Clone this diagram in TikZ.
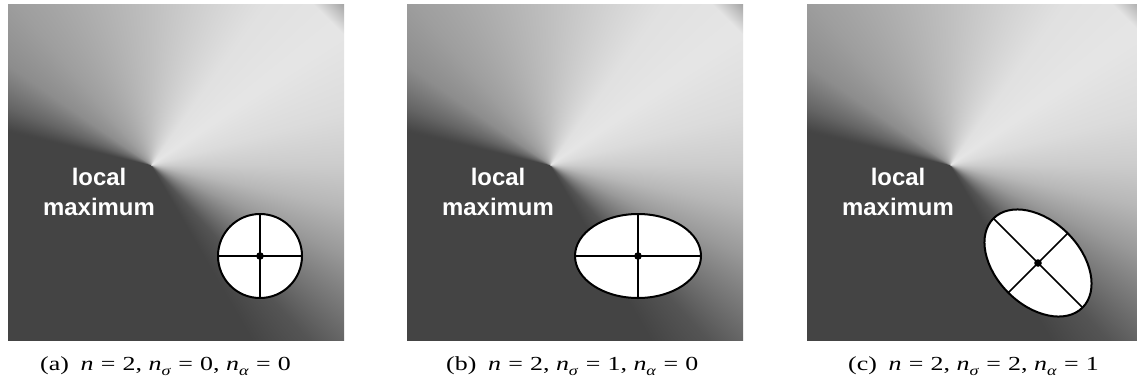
\documentclass[tikz,border=0pt]{standalone}
\usepackage{fontspec}
\setmainfont{Liberation Serif}
\newfontfamily\labelfont{Liberation Sans}
\pgfdeclarefunctionalshading{conic}{\pgfpoint{0bp}{0bp}}{\pgfpoint{337bp}{337bp}}{}{
  2 copy add 642 sub dup 0 lt {pop 0} if 0.008 mul
  3 1 roll
  175 sub exch 144.0013 sub atan
  dup 15 lt {0.004 mul 0.80 add}{
  dup 35 lt {15 sub 0.002 mul 0.86 add}{
  dup 55 lt {35 sub -0.001 mul 0.90 add}{
  dup 90 lt {55 sub -0.003714 mul 0.88 add}{
  dup 130 lt {90 sub -0.00325 mul 0.75 add}{
  dup 145 lt {130 sub -0.004667 mul 0.62 add}{
  dup 158 lt {145 sub -0.012 mul 0.55 add}{
  dup 166 lt {158 sub -0.015 mul 0.394 add}{
  dup 174 lt {166 sub -0.0075 mul 0.274 add}{
  dup 300 lt {pop 0.267}{
  dup 312 lt {300 sub 0.00525 mul 0.267 add}{
  dup 322 lt {312 sub 0.012 mul 0.33 add}{
  dup 335 lt {322 sub 0.011538 mul 0.45 add}{
  dup 348 lt {335 sub 0.009231 mul 0.60 add}{
  348 sub 0.006667 mul 0.72 add
  } ifelse} ifelse} ifelse} ifelse} ifelse} ifelse} ifelse} ifelse} ifelse} ifelse} ifelse} ifelse} ifelse} ifelse
  exch sub
  dup 0.267 lt {pop 0.267} if
  dup dup
}
\newcommand{\mi}[1]{\textit{#1}}
\newcommand{\sbs}[1]{\raisebox{-0.3em}{\fontsize{14}{14}\selectfont\textit{#1}}}
\newcommand{\eqs}{\hspace{0.28em}=\hspace{0.28em}}
\newcommand{\capline}[4]{\scalebox{1.3}[1]{(#1)\hspace{0.45em}\mi{n}\eqs #2, \mi{n}\sbs{σ}\eqs #3, \mi{n}\sbs{α}\eqs #4}}
\tikzset{
  panel/.style={inner sep=0pt, outer sep=0pt, anchor=north west},
  lbl/.style={text=white, anchor=base, inner sep=0pt, font=\labelfont\bfseries\fontsize{24}{28}\selectfont},
  captext/.style={anchor=base west, inner sep=0pt, font=\fontsize{20}{24}\selectfont},
  disc/.style={draw=black, fill=white, line width=2bp},
  axisline/.style={draw=black, line width=1.7bp},
  dot/.style={fill=black}
}
\begin{document}
\begin{tikzpicture}[x=1bp,y=-1bp]
\useasboundingbox (0,0) rectangle (1137,385);
\fill[white] (0,0) rectangle (1137,385);
\begin{scope}
\clip (0,0) rectangle (1137,385);
\node[panel] (pa) at (7,3) {\pgfuseshading{conic}};
\node[panel] (pb) at (406,3) {\pgfuseshading{conic}};
\node[panel] (pc) at (806,3) {\pgfuseshading{conic}};
\end{scope}
% labels
\node[lbl] (la1) at (99,185) {local};
\node[lbl] (la2) at (99,215) {maximum};
\node[lbl] (lb1) at (498,185) {local};
\node[lbl] (lb2) at (498,215) {maximum};
\node[lbl] (lc1) at (898,185) {local};
\node[lbl] (lc2) at (898,215) {maximum};
% ellipse a
\begin{scope}[shift={(260,256)}]
\path[disc] (0,0) ellipse [x radius=42, y radius=42];
\draw[axisline] (-42,0) -- (42,0);
\draw[axisline] (0,-42) -- (0,42);
\fill[dot] (0,0) circle [radius=3.8];
\end{scope}
% ellipse b
\begin{scope}[shift={(638,256)}]
\path[disc] (0,0) ellipse [x radius=63, y radius=42];
\draw[axisline] (-63,0) -- (63,0);
\draw[axisline] (0,-42) -- (0,42);
\fill[dot] (0,0) circle [radius=3.8];
\end{scope}
% ellipse c
\begin{scope}[shift={(1038,263)}, rotate=-45]
\path[disc] (0,0) ellipse [x radius=63, y radius=42];
\draw[axisline] (-63,0) -- (63,0);
\draw[axisline] (0,-42) -- (0,42);
\fill[dot] (0,0) circle [radius=3.8];
\end{scope}
% captions
\node[captext] (ca) at (40,370) {\capline{a}{2}{0}{0}};
\node[captext] (cb) at (446,370) {\capline{b}{2}{1}{0}};
\node[captext] (cc) at (848,370) {\capline{c}{2}{2}{1}};
\end{tikzpicture}
\end{document}
